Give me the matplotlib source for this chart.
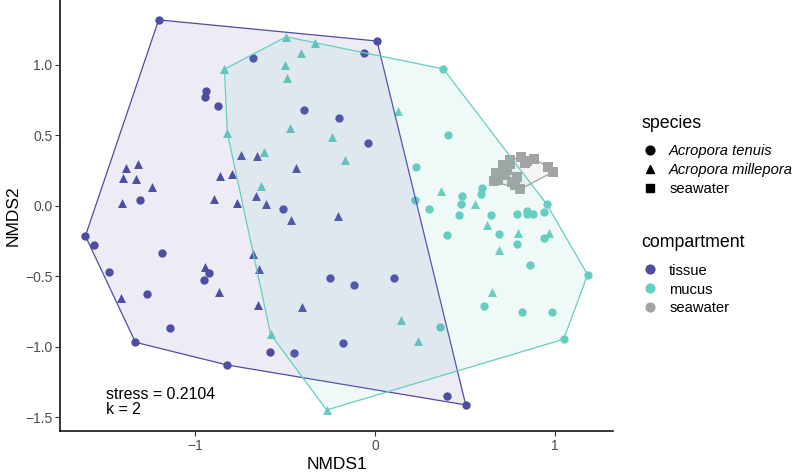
import numpy as np
import matplotlib
matplotlib.use('Agg')
from matplotlib import pyplot as plt
from matplotlib.lines import Line2D

plt.rcParams['font.family'] = ['Liberation Sans', 'DejaVu Sans']

# NMDS scores, one group per compartment x species
tissue_tenuis_x = [-1.202, -0.676, 0.011, -0.063, -0.939, -0.944, -0.872, -0.393, -0.202, -0.039,
                   -1.306, -0.513, -1.609, -1.563, -1.182, -1.476, -0.922, -0.950, -1.269, -1.137,
                   -1.331, -0.820, -0.581, -0.452, -0.248, -0.117, 0.106, -0.178, 0.400, 0.504]
tissue_tenuis_y = [1.320, 1.047, 1.170, 1.083, 0.818, 0.775, 0.709, 0.681, 0.622, 0.449,
                   0.045, -0.024, -0.213, -0.277, -0.331, -0.466, -0.478, -0.527, -0.624, -0.868,
                   -0.967, -1.128, -1.033, -1.040, -0.511, -0.560, -0.511, -0.974, -1.348, -1.411]

tissue_millepora_x = [-0.744, -0.656, -0.437, -1.383, -1.315, -1.398, -1.328, -1.237, -1.407, -0.863,
                      -0.794, -0.893, -0.765, -0.661, -0.607, -0.467, -0.206, -0.943, -0.865, -1.411,
                      -0.678, -0.646, -0.650, -0.407]
tissue_millepora_y = [0.360, 0.355, 0.267, 0.272, 0.298, 0.196, 0.191, 0.137, 0.023, 0.213,
                      0.227, 0.050, 0.021, 0.071, 0.012, -0.099, -0.069, -0.435, -0.612, -0.655,
                      -0.340, -0.449, -0.704, -0.714]

mucus_tenuis_x = [0.380, 0.404, 0.228, 0.224, 0.300, 0.398, 0.483, 0.593, 0.587, 0.480,
                  0.465, 0.644, 0.687, 0.787, 0.846, 0.846, 0.880, 0.954, 0.939, 0.787,
                  0.941, 0.859, 1.181, 0.607, 0.817, 0.985, 0.363, 1.048]
mucus_tenuis_y = [0.972, 0.506, 0.279, 0.043, -0.019, -0.206, 0.073, 0.125, 0.083, 0.012,
                  -0.064, -0.066, -0.196, -0.059, -0.033, -0.057, -0.057, 0.012, -0.040, -0.272,
                  -0.229, -0.416, -0.487, -0.709, -0.749, -0.749, -0.858, -0.945]

mucus_millepora_x = [-0.493, -0.413, -0.837, -0.498, -0.487, -0.335, -0.820, -0.474, -0.619, -0.633,
                     0.130, -0.241, -0.165, 0.367, 0.556, 0.620, 0.687, 0.794, 0.969, 0.648,
                     -0.580, 0.144, 0.237, -0.269]
mucus_millepora_y = [1.200, 1.083, 0.970, 1.000, 0.910, 1.154, 0.516, 0.555, 0.381, 0.144,
                     0.674, 0.492, 0.326, 0.104, 0.012, -0.137, -0.312, -0.189, -0.189, -0.608,
                     -0.910, -0.809, -0.957, -1.447]

seawater_x = [0.813, 0.885, 0.750, 0.833, 0.713, 0.963, 0.991, 0.672, 0.731, 0.685,
              0.661, 0.778, 0.806, 0.759, 0.843, 0.722, 0.787, 0.748]
seawater_y = [0.345, 0.335, 0.326, 0.303, 0.291, 0.274, 0.243, 0.232, 0.255, 0.184,
              0.175, 0.149, 0.118, 0.172, 0.316, 0.220, 0.208, 0.300]

species_labels = ['Acropora tenuis', 'Acropora millepora', 'seawater']
compartment_labels = ['tissue', 'mucus', 'seawater']
colors = {'tissue': '#4F4CA4', 'mucus': '#67CDC1', 'seawater': '#A3A3A3'}


def hull(xs, ys):
    # monotone chain convex hull
    pts = sorted(set(zip(xs, ys)))
    def cross(o, a, b):
        return (a[0] - o[0]) * (b[1] - o[1]) - (a[1] - o[1]) * (b[0] - o[0])
    lower, upper = [], []
    for p in pts:
        while len(lower) >= 2 and cross(lower[-2], lower[-1], p) <= 0:
            lower.pop()
        lower.append(p)
    for p in reversed(pts):
        while len(upper) >= 2 and cross(upper[-2], upper[-1], p) <= 0:
            upper.pop()
        upper.append(p)
    return np.array(lower[:-1] + upper[:-1])


fig = plt.figure(figsize=(7.95, 4.72), dpi=100)
ax = fig.add_axes([60 / 795, 41 / 472, 553 / 795, 431 / 472])

ms = 36
ax.scatter(tissue_tenuis_x, tissue_tenuis_y, s=ms, marker='o', color=colors['tissue'], linewidths=0, zorder=2)
ax.scatter(tissue_millepora_x, tissue_millepora_y, s=ms * 1.15, marker='^', color=colors['tissue'], linewidths=0, zorder=2)
ax.scatter(mucus_tenuis_x, mucus_tenuis_y, s=ms, marker='o', color=colors['mucus'], linewidths=0, zorder=2)
ax.scatter(mucus_millepora_x, mucus_millepora_y, s=ms * 1.15, marker='^', color=colors['mucus'], linewidths=0, zorder=2)
ax.scatter(seawater_x, seawater_y, s=ms * 1.2, marker='s', color=colors['seawater'], linewidths=0, zorder=2)

groups = [
    ('tissue', tissue_tenuis_x + tissue_millepora_x, tissue_tenuis_y + tissue_millepora_y),
    ('mucus', mucus_tenuis_x + mucus_millepora_x, mucus_tenuis_y + mucus_millepora_y),
    ('seawater', seawater_x, seawater_y),
]
for name, gx, gy in groups:
    h = hull(gx, gy)
    ax.fill(h[:, 0], h[:, 1], color=colors[name], alpha=0.1, lw=0, zorder=3)
    ax.fill(h[:, 0], h[:, 1], facecolor='none', edgecolor=colors[name], lw=0.9, zorder=3)

ax.text(-1.494, -1.34, 'stress = 0.2104', fontsize=11.4, va='center', ha='left')
ax.text(-1.494, -1.44, 'k = 2', fontsize=11.4, va='center', ha='left')

ax.set_xlim(-1.75, 1.322)
ax.set_ylim(-1.596, 1.461)
ax.set_xticks([-1, 0, 1])
ax.set_xticklabels(['\u22121', '0', '1'])
ax.set_yticks([1.0, 0.5, 0.0, -0.5, -1.0, -1.5])
ax.set_yticklabels(['1.0', '0.5', '0.0', '\u22120.5', '\u22121.0', '\u22121.5'])
ax.tick_params(labelsize=10, labelcolor='#4D4D4D', color='#333333', length=3.5, width=0.8, pad=2)
for side in ['top', 'right']:
    ax.spines[side].set_visible(False)
for side in ['left', 'bottom']:
    ax.spines[side].set_linewidth(1.1)
ax.set_xlabel('NMDS1', fontsize=12.5, labelpad=3)
ax.set_ylabel('NMDS2', fontsize=12.5, labelpad=3)

# legends: titles as plain text, entries as legends centred on their middle row
leg_kw = dict(loc='center left', frameon=False, fontsize=10.6, handletextpad=0.55,
              labelspacing=0.33, handlelength=1.5, borderaxespad=0)

fig.text(641 / 795, 1 - 124 / 472, 'species', fontsize=12.8, va='center', ha='left')
species_handles = [Line2D([], [], ls='none', marker=m, color='black', markersize=6.3)
                   for m in ['o', '^', 's']]
leg1 = fig.legend(species_handles, species_labels, bbox_to_anchor=(633 / 795, 1 - 170 / 472), **leg_kw)
for t in leg1.get_texts()[:2]:
    t.set_style('italic')

fig.text(641 / 795, 1 - 243 / 472, 'compartment', fontsize=12.8, va='center', ha='left')
comp_handles = [Line2D([], [], ls='none', marker='o', color=colors[c], markersize=6.3)
                for c in compartment_labels]
leg2 = fig.legend(comp_handles, compartment_labels, bbox_to_anchor=(633 / 795, 1 - 289.5 / 472), **leg_kw)

fig.savefig('out.png', dpi=100)
